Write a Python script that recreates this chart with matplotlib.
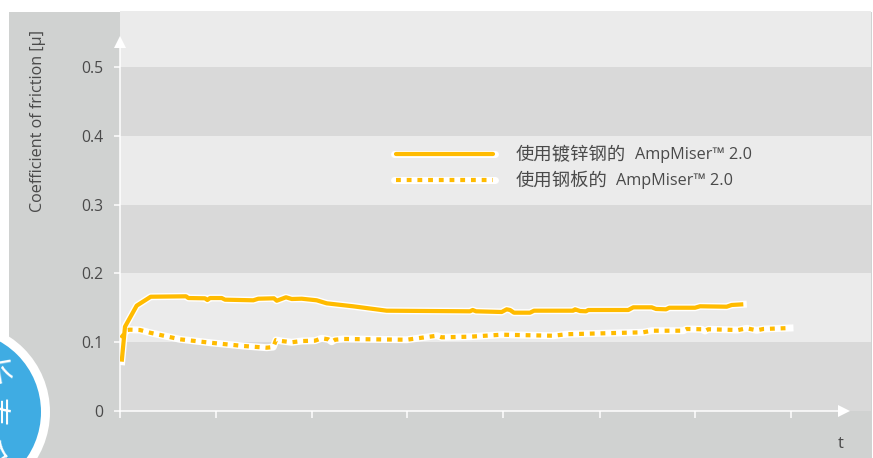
import matplotlib
matplotlib.use("Agg")
import matplotlib.pyplot as plt
from matplotlib.patches import Rectangle, Circle
from matplotlib.lines import Line2D

W, H = 873, 458
FONT = ['Open Sans', 'Noto Sans CJK SC', 'DejaVu Sans']
CJK = ['Noto Sans CJK SC', 'DejaVu Sans']
plt.rcParams['font.family'] = FONT

y_ticks = [0, 0.1, 0.2, 0.3, 0.4, 0.5]
y_tick_labels = ['0', '0.1', '0.2', '0.3', '0.4', '0.5']
x_ticks = [0, 1, 2, 3, 4, 5, 6, 7]
y_label = 'Coefficient of friction [µ]'
x_label = 't'
series1_cn = '使用镀锌钢的'
series2_cn = '使用钢板的'
series_product = 'AmpMiser™ 2.0'

galv_t = [.023, .057, .179, .325, .693, .717, .891, .915, .943, 1.065, 1.099, 1.394, 1.446,
          1.609, 1.638, 1.734, 1.794, 1.898, 2.054, 2.158, 2.432, 2.783, 3.651, 3.679, 3.714,
          3.981, 4.033, 4.068, 4.109, 4.276, 4.318, 4.693, 4.727, 4.745, 4.797, 4.859, 4.883,
          5.300, 5.352, 5.544, 5.589, 5.693, 5.727, 5.995, 6.047, 6.325, 6.377, 6.498]
galv_mu = [.0717, .1225, .1531, .1661, .1667, .1642, .1638, .1613, .1642, .1642, .1618, .1609, .1632,
           .1638, .1603, .1653, .1628, .1632, .1609, .1565, .1522, .1458, .1449, .1468, .1449,
           .1439, .1478, .1468, .1429, .1429, .1458, .1458, .1458, .1478, .1453, .1449, .1468,
           .1468, .1507, .1507, .1483, .1478, .1501, .1501, .1522, .1516, .1541, .1551]

plate_t = [.016, .078, .109, .214, .318, .630, .943, 1.290, 1.533, 1.602, 1.630, 1.690, 1.794,
           1.898, 2.036, 2.106, 2.175, 2.210, 2.245, 2.331, 2.992, 3.304, 3.356, 3.651, 3.981,
           4.519, 4.658, 5.456, 5.544, 5.873, 5.908, 6.065, 6.099, 6.133, 6.445, 6.533, 6.638,
           6.706, 6.984]
plate_mu = [.1061, .1177, .1182, .1177, .1138, .1042, .0993, .0945, .0920, .0930, .1032, .1017, .0999,
            .1017, .1022, .1057, .1042, .1007, .1036, .1047, .1036, .1094, .1071, .1080, .1109,
            .1094, .1116, .1144, .1167, .1167, .1192, .1188, .1163, .1188, .1177, .1202, .1173,
            .1192, .1206]

ORANGE = '#FFBB00'
PANEL = '#D0D2D1'
LIGHT = '#EBEBEB'
DARK = '#D9D9D9'
TEXT = '#4A4A4A'
px = 0.72
lw_line = 4.2 * px
lw_halo = 7.0 * px
dash = (1.15, 1.4)

fig = plt.figure(figsize=(W / 100, H / 100), dpi=100, facecolor='white')

# page layer in pixel coordinates
bg = fig.add_axes([0, 0, 1, 1], zorder=0)
bg.set_xlim(0, W)
bg.set_ylim(H, 0)
bg.axis('off')
bg.add_patch(Rectangle((9, 12), 863, 446, fc=PANEL, ec='none'))
bg.add_patch(Circle((-40, 412), 90, fc='white', ec='none'))
badge = Circle((-40, 412), 81, fc='#3FACE3', ec='none')
bg.add_patch(badge)
for ch, cx, cy, rot in [('长', -9, 371, -80), ('寿', -9, 412, -90), ('命', -12, 453, -100)]:
    t = bg.text(cx, cy, ch, color='white', fontsize=23, rotation=rot, family=CJK,
                ha='center', va='center', rotation_mode='anchor')
    t.set_clip_path(badge)

# chart
x0, x1, y0, ytop = 119.5, 871, 411, 11
ax = fig.add_axes([x0 / W, 1 - y0 / H, (x1 - x0) / W, (y0 - ytop) / H], zorder=1)
ax.patch.set_visible(False)
ax.set_xlim(0, (x1 - x0) / 96)
ax.set_ylim(0, (y0 - ytop) / 688)
for i, lo in enumerate(y_ticks):
    hi = y_ticks[i + 1] if i + 1 < len(y_ticks) else ax.get_ylim()[1]
    ax.axhspan(lo, hi, color=DARK if i % 2 == 0 else LIGHT, lw=0, zorder=0)

for s in ('top', 'right'):
    ax.spines[s].set_visible(False)
for s in ('left', 'bottom'):
    ax.spines[s].set_color('white')
    ax.spines[s].set_linewidth(1.5 * px)
ax.spines['left'].set_bounds(0, 0.53)
ax.spines['bottom'].set_bounds(0, 7.5)
ax.plot([0], [0.537], marker='^', ms=12.5 * px, color='white', mew=0, clip_on=False, zorder=5)
ax.plot([7.55], [0], marker='>', ms=12.5 * px, color='white', mew=0, clip_on=False, zorder=5)

ax.set_xticks(x_ticks)
ax.set_xticklabels([])
ax.set_yticks(y_ticks)
ax.set_yticklabels(y_tick_labels, fontsize=11.3, color=TEXT)
ax.tick_params(axis='both', color='white', width=1.5 * px, length=6.5 * px)
ax.tick_params(axis='y', pad=7)

ax.plot(galv_t, galv_mu, color='white', lw=lw_halo, zorder=3, solid_joinstyle='round')
ax.plot(plate_t, plate_mu, color='white', lw=lw_halo, zorder=3, solid_joinstyle='round')
ax.plot(galv_t, galv_mu, color=ORANGE, lw=lw_line, zorder=4, solid_joinstyle='round', solid_capstyle='butt')
ax.plot(plate_t, plate_mu, color=ORANGE, lw=lw_line, zorder=4, dashes=dash, dash_capstyle='butt')

# labels and legend on a top layer in pixel coordinates
top = fig.add_axes([0, 0, 1, 1], zorder=2)
top.set_xlim(0, W)
top.set_ylim(H, 0)
top.axis('off')
top.text(38, 121.5, y_label, rotation=90, ha='center', va='center', fontsize=11.6, color=TEXT)
top.text(841, 444, x_label, ha='center', va='center', fontsize=12, color=TEXT)
for yy, dashed, cn, xlat in [(154, False, series1_cn, 635), (180, True, series2_cn, 616)]:
    top.add_line(Line2D([394, 495], [yy, yy], color='white', lw=lw_halo, solid_capstyle='round'))
    kw = dict(dashes=dash, dash_capstyle='butt') if dashed else dict(solid_capstyle='round')
    top.add_line(Line2D([396, 493], [yy, yy], color=ORANGE, lw=lw_line, **kw))
    top.text(516, yy + 1.5, cn, family=CJK, fontsize=13.2, color=TEXT, va='center', ha='left', fontweight='light')
    top.text(xlat, yy + 1, series_product, fontsize=11.7, color=TEXT, va='center', ha='left')

fig.savefig('out.png', dpi=100, facecolor='white')
